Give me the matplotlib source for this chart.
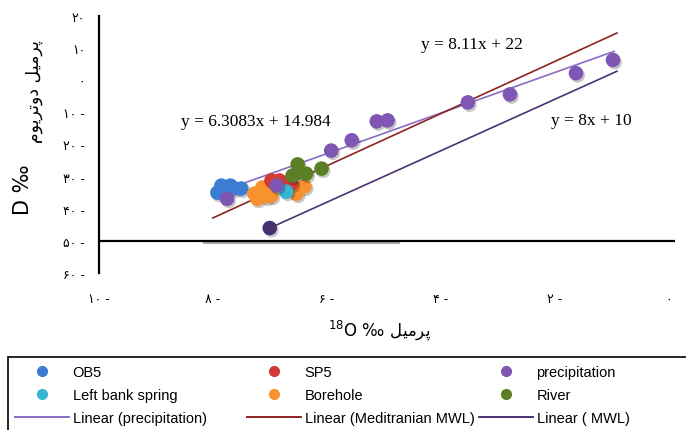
import matplotlib
matplotlib.use("Agg")
import matplotlib.pyplot as plt
import matplotlib.patheffects as pe
from matplotlib.lines import Line2D
from matplotlib.patches import Rectangle

# sample groups: delta 18O (x) and delta D (y), per mil
ob5_x = [-7.92, -7.85, -7.69, -7.50, -7.80, -7.62]
ob5_y = [-35.0, -32.8, -32.8, -33.7, -35.3, -33.7]

sp5_x = [-6.97, -6.83, -6.62]
sp5_y = [-31.2, -31.2, -32.2]

precip_x = [-0.97, -1.62, -2.78, -3.52, -4.93, -5.12, -5.56, -5.92, -6.88, -7.75]
precip_y = [6.3, 2.2, -4.4, -6.9, -12.5, -12.8, -18.7, -21.9, -32.8, -36.9]

spring_x = [-6.71]
spring_y = [-34.7]

bore_x = [-7.27, -7.13, -7.22, -7.06, -6.97, -6.53, -6.39]
bore_y = [-35.3, -33.4, -36.9, -36.2, -35.9, -35.3, -33.1]

river_x = [-6.51, -6.48, -6.60, -6.36, -6.09]
river_y = [-26.2, -28.4, -29.7, -29.1, -27.5]

# trend lines: slope, intercept, x range
precip_fit = (6.3083, 14.984, -7.8, -0.95)
med_fit = (8.11, 22, -8.0, -0.9)
mwl_fit = (8, 10, -7.0, -0.9)

y_ticks = [-60, -50, -40, -30, -20, -10, 0, 10, 20]
x_ticks = [-10, -8, -6, -4, -2, 0]

FA_DIGITS = str.maketrans("0123456789", "\u06f0\u06f1\u06f2\u06f3\u06f4\u06f5\u06f6\u06f7\u06f8\u06f9")

# Persian words written in visual (left-to-right) order with presentation forms
PERMIL = "\uFEDE\uFBFF\uFEE3\uFEAE\uFB58"
DEUTERIUM = "\uFEE1\uFEEE\uFBFE\uFEAE\uFE97\uFEED\uFEA9"


def fa_label(v):
    s = str(abs(v)).translate(FA_DIGITS)
    return s + " -" if v < 0 else s


def fit_line(fit):
    a, b, x0, x1 = fit
    return [x0, x1], [a * x0 + b, a * x1 + b]


plt.rcParams["font.family"] = ["DejaVu Sans"]

fig = plt.figure(figsize=(6.86, 4.31), dpi=100)
ax = fig.add_axes([0.1443, 0.3643, 0.8397, 0.5963])
ax.set_xlim(-10, 0.12)
ax.set_ylim(-60, 20)

for s in ["top", "right", "bottom"]:
    ax.spines[s].set_visible(False)
ax.spines["left"].set_linewidth(1.6)
ax.spines["left"].set_color("black")

# horizontal axis crosses at -50
ax.plot([-8.15, -4.75], [-50.3, -50.3], color="#a8a8a8", lw=2.2, zorder=1)
ax.axhline(-50, color="black", lw=1.6, zorder=2)

c_prec_line = "#8b6cc4"
c_med = "#8c2424"
c_mwl = "#4a3374"

xs, ys = fit_line(precip_fit)
ax.plot(xs, ys, color=c_prec_line, lw=1.2, zorder=4)
xs, ys = fit_line(med_fit)
ax.plot(xs, ys, color=c_med, lw=1.2, zorder=4)
xs, ys = fit_line(mwl_fit)
ax.plot(xs, ys, color=c_mwl, lw=1.2, zorder=4)

shadow = [pe.SimplePatchShadow(offset=(1.2, -1.6), shadow_rgbFace="black", alpha=0.22), pe.Normal()]

groups = [
    (ob5_x, ob5_y, "#3b7dd3"),
    (bore_x, bore_y, "#f7922e"),
    (sp5_x, sp5_y, "#d13a35"),
    (spring_x, spring_y, "#36b5d2"),
    (river_x, river_y, "#5b7f24"),
    (precip_x, precip_y, "#7f56b3"),
]
for gx, gy, col in groups:
    sc = ax.scatter(gx, gy, s=110, color=col, edgecolors="none", zorder=5)
    sc.set_path_effects(shadow)

sc = ax.scatter([mwl_fit[2]], [mwl_fit[0] * mwl_fit[2] + mwl_fit[1]], s=110,
                color="#47306e", edgecolors="none", zorder=5)
sc.set_path_effects(shadow)

ax.set_yticks(y_ticks)
ax.set_yticklabels([fa_label(v) for v in y_ticks], fontsize=9)
ax.set_xticks(x_ticks)
ax.set_xticklabels([fa_label(v) for v in x_ticks], fontsize=9)
ax.tick_params(axis="y", length=0, pad=10)
ax.tick_params(axis="x", length=0, pad=14)

eq_font = dict(family=["Liberation Serif", "DejaVu Serif"], fontsize=12.5, color="black")
ax.text(-3.44, 11.3, "y = 8.11x + 22", ha="center", va="center", **eq_font)
ax.text(-7.24, -12.8, "y = 6.3083x + 14.984", ha="center", va="center", **eq_font)
ax.text(-1.35, -12.5, "y = 8x + 10", ha="center", va="center", **eq_font)

# axis titles
fig.text(0.553, 0.233, "$^{18}$O \u2030 " + PERMIL, ha="center", va="center", fontsize=12)
fig.text(0.033, 0.559, "D \u2030", ha="center", va="center", rotation=90, fontsize=15)
fig.text(0.049, 0.787, DEUTERIUM + " " + PERMIL, ha="center", va="center", rotation=90, fontsize=12.5)

# legend box, cut off at the right and bottom
fig.patches.append(Rectangle((8 / 686, -0.05), 1.0, 1 - 358 / 431 + 0.05,
                             transform=fig.transFigure, fill=False, ec="black", lw=1.2))

leg_font = {"family": ["Liberation Sans", "DejaVu Sans"], "size": 10.5}
cols = [
    [("OB5", "#3b7dd3", None), ("Left bank spring", "#36b5d2", None), ("Linear (precipitation)", None, c_prec_line)],
    [("SP5", "#d13a35", None), ("Borehole", "#f7922e", None), ("Linear (Meditranian MWL)", None, c_med)],
    [("precipitation", "#7f56b3", None), ("River", "#5b7f24", None), ("Linear ( MWL)", None, c_mwl)],
]
col_x = [12 / 686, 244 / 686, 476 / 686]
for cx, entries in zip(col_x, cols):
    handles = []
    for name, mcol, lcol in entries:
        if mcol:
            handles.append(Line2D([], [], ls="none", marker="o", ms=7, color=mcol, label=name))
        else:
            handles.append(Line2D([], [], color=lcol, lw=1.4, label=name))
    fig.legend(handles=handles, loc="upper left", bbox_to_anchor=(cx, 1 - 363 / 431),
               frameon=False, prop=leg_font, handlelength=3.7, handletextpad=0.25,
               labelspacing=0.62, borderaxespad=0, borderpad=0.2)

fig.savefig("out.png", dpi=100)
